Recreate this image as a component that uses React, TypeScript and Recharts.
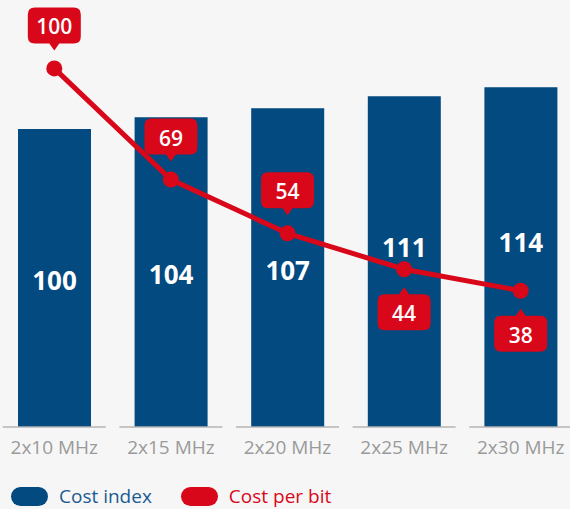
import { Bar, ComposedChart, LabelList, Legend, Line, XAxis, YAxis } from 'recharts'

const bands = ['2x10 MHz', '2x15 MHz', '2x20 MHz', '2x25 MHz', '2x30 MHz']
const costIndex = [100, 104, 107, 111, 114]
const costPerBit = [100, 69, 54, 44, 38]

const BLUE = '#024a7f'
const RED = '#d8081a'
const FONT = '"Open Sans", sans-serif'

const data = bands.map((band, i) => ({ band, index: costIndex[i], bit: costPerBit[i] }))

// the last two callouts hang below the line, so their bar labels sit higher
const calloutBelow = (i: number) => i >= 3

function BarValue(props: any) {
  const { x, y, width, height, value, index } = props
  const cy = y + height / 2 + (calloutBelow(index) ? -15 : 2)
  return (
    <text x={x + width / 2} y={cy} textAnchor="middle" dominantBaseline="central"
      fill="#fff" fontSize={26} fontWeight={700} fontFamily={FONT}>
      {value}
    </text>
  )
}

function Callout(props: any) {
  const { x, y, value, index } = props
  const w = 53, h = 36, r = 7, pw = 5, ph = 7
  const below = calloutBelow(index)
  const tip = below ? y + 18 : y - 18
  const top = below ? tip + ph : tip - ph - h
  const l = x - w / 2, rt = x + w / 2, b = top + h
  const d = below
    ? `M${x},${tip} L${x + pw},${top} H${rt - r} Q${rt},${top} ${rt},${top + r} V${b - r} Q${rt},${b} ${rt - r},${b} H${l + r} Q${l},${b} ${l},${b - r} V${top + r} Q${l},${top} ${l + r},${top} H${x - pw} Z`
    : `M${l + r},${top} H${rt - r} Q${rt},${top} ${rt},${top + r} V${b - r} Q${rt},${b} ${rt - r},${b} H${x + pw} L${x},${tip} L${x - pw},${b} H${l + r} Q${l},${b} ${l},${b - r} V${top + r} Q${l},${top} ${l + r},${top} Z`
  return (
    <g>
      <path d={d} fill={RED} />
      <text x={x} y={top + h / 2 + 1} textAnchor="middle" dominantBaseline="central"
        fill="#fff" fontSize={21} fontWeight={600} fontFamily={FONT}>
        {value}
      </text>
    </g>
  )
}

function BandTick(props: any) {
  const { x, y, payload } = props
  return (
    <g>
      <line x1={x - 51.5} x2={x + 51.5} y1={y} y2={y} stroke="#b4b4b4" strokeWidth={1.5} />
      <text x={x} y={y + 20} textAnchor="middle" dominantBaseline="central"
        fill="#9a9a9a" fontSize={19} fontFamily={FONT}>
        {payload.value}
      </text>
    </g>
  )
}

function LegendRow() {
  const items = [
    { label: 'Cost index', color: BLUE, text: '#1b5a93' },
    { label: 'Cost per bit', color: RED, text: RED },
  ]
  return (
    <div style={{ display: 'flex', alignItems: 'center', height: 30, paddingLeft: 15, paddingTop: 4, boxSizing: 'border-box', fontFamily: FONT }}>
      {items.map((it) => (
        <div key={it.label} style={{ display: 'flex', alignItems: 'center', marginRight: 29 }}>
          <span style={{ width: 37, height: 19, borderRadius: 10, background: it.color, marginRight: 11 }} />
          <span style={{ color: it.text, fontSize: 19, lineHeight: '26px' }}>{it.label}</span>
        </div>
      ))}
    </div>
  )
}

export default function App() {
  return (
    <div style={{ position: 'absolute', left: 0, top: 0, width: 570, height: 509, background: '#f6f6f6' }}>
      <ComposedChart width={570} height={509} data={data}
        margin={{ top: 20, right: -9, bottom: 0, left: -4 }}>
        <XAxis dataKey="band" axisLine={false} tickLine={false} tickSize={0} tickMargin={0}
          height={52} interval={0} tick={<BandTick />} />
        <YAxis yAxisId="bar" hide domain={[0, 136.6]} allowDataOverflow />
        <YAxis yAxisId="line" hide domain={[0, 113.5]} allowDataOverflow />
        <Legend verticalAlign="bottom" content={<LegendRow />} />
        <Bar yAxisId="bar" dataKey="index" name="Cost index" fill={BLUE} barSize={73} isAnimationActive={false}>
          <LabelList dataKey="index" content={<BarValue />} />
        </Bar>
        <Line yAxisId="line" dataKey="bit" name="Cost per bit" stroke={RED} strokeWidth={5}
          dot={{ r: 8, fill: RED, stroke: 'none' }} activeDot={false} isAnimationActive={false}>
          <LabelList dataKey="bit" content={<Callout />} />
        </Line>
      </ComposedChart>
    </div>
  )
}
